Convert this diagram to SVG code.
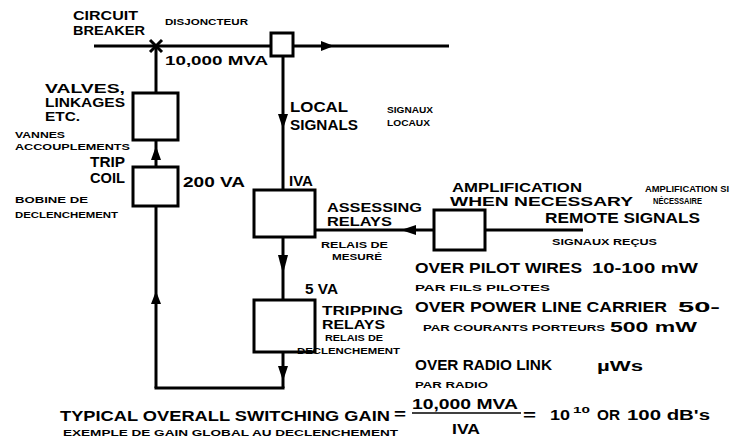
<svg xmlns="http://www.w3.org/2000/svg" width="732" height="443" viewBox="0 0 732 443">
<style>
text{font-family:"Liberation Sans",Arial,sans-serif;font-weight:bold;fill:#000}
.L{font-size:14px}
.K{font-size:12px}
.M{font-size:13px}
.S{font-size:9.5px}
.ln{stroke:#000;stroke-width:3;fill:none}
.box{stroke:#000;stroke-width:3;fill:#fff}
.ah{fill:#000}
</style>
<rect width="732" height="443" fill="#fff"/>
<g id="connectors">
<line class="ln" x1="94" y1="46" x2="449" y2="46"/>
<polygon class="ah" points="334,46 321,41 321,51"/>
<line class="ln" x1="156" y1="46" x2="156" y2="93"/>
<line class="ln" x1="156" y1="140" x2="156" y2="167"/>
<polygon class="ah" points="156,146 151,160 161,160"/>
<line class="ln" x1="156" y1="206" x2="156" y2="388"/>
<polygon class="ah" points="156,291 151,304 161,304"/>
<line class="ln" x1="154.5" y1="388" x2="284.5" y2="388"/>
<line class="ln" x1="283" y1="56" x2="283" y2="190"/>
<polygon class="ah" points="283,129 278,114 288,114"/>
<line class="ln" x1="283" y1="237" x2="283" y2="300"/>
<polygon class="ah" points="283,274 278,255 288,255"/>
<line class="ln" x1="283" y1="352" x2="283" y2="388"/>
<polygon class="ah" points="283,381 278,366 288,366"/>
<line class="ln" x1="315" y1="230" x2="434" y2="230"/>
<polygon class="ah" points="401,230 416,225 416,235"/>
<line class="ln" x1="485" y1="230" x2="583" y2="230"/>
</g>
<g id="breaker">
<line class="ln" x1="150" y1="40" x2="162" y2="52" stroke-width="2.5"/>
<line class="ln" x1="162" y1="40" x2="150" y2="52" stroke-width="2.5"/>
<text class="M" x="73" y="20" textLength="65" lengthAdjust="spacingAndGlyphs">CIRCUIT</text>
<text class="M" x="73" y="35" textLength="72" lengthAdjust="spacingAndGlyphs">BREAKER</text>
<text class="S" x="165" y="25" textLength="83" lengthAdjust="spacingAndGlyphs">DISJONCTEUR</text>
<text class="M" x="165" y="65" textLength="103" lengthAdjust="spacingAndGlyphs">10,000 MVA</text>
</g>
<g id="transformer">
<rect class="box" x="271" y="33" width="22" height="23"/>
</g>
<g id="valves">
<rect class="box" x="133" y="93" width="45" height="47"/>
<text class="K" x="45" y="93" textLength="80" lengthAdjust="spacingAndGlyphs">VALVES,</text>
<text class="K" x="45" y="107" textLength="80" lengthAdjust="spacingAndGlyphs">LINKAGES</text>
<text class="K" x="45" y="121" textLength="35" lengthAdjust="spacingAndGlyphs">ETC.</text>
<text class="S" x="15" y="138" textLength="50" lengthAdjust="spacingAndGlyphs">VANNES</text>
<text class="S" x="15" y="150" textLength="115" lengthAdjust="spacingAndGlyphs">ACCOUPLEMENTS</text>
</g>
<g id="tripcoil">
<rect class="box" x="133" y="167" width="45" height="39"/>
<text class="L" x="90" y="167" textLength="35" lengthAdjust="spacingAndGlyphs">TRIP</text>
<text class="L" x="90" y="183" textLength="35" lengthAdjust="spacingAndGlyphs">COIL</text>
<text class="L" x="183" y="187" textLength="62" lengthAdjust="spacingAndGlyphs">200 VA</text>
<text class="S" x="15" y="203" textLength="73" lengthAdjust="spacingAndGlyphs">BOBINE DE</text>
<text class="S" x="15" y="218" textLength="103" lengthAdjust="spacingAndGlyphs">DECLENCHEMENT</text>
</g>
<g id="localsignals">
<text class="L" x="290" y="112" textLength="58" lengthAdjust="spacingAndGlyphs">LOCAL</text>
<text class="L" x="290" y="130" textLength="68" lengthAdjust="spacingAndGlyphs">SIGNALS</text>
<text class="S" x="387" y="113" textLength="46" lengthAdjust="spacingAndGlyphs">SIGNAUX</text>
<text class="S" x="387" y="126" textLength="43" lengthAdjust="spacingAndGlyphs">LOCAUX</text>
</g>
<g id="assessing">
<rect class="box" x="254" y="190" width="61" height="47"/>
<text class="L" x="289" y="186" textLength="24" lengthAdjust="spacingAndGlyphs">IVA</text>
<text class="K" x="327" y="212" textLength="95" lengthAdjust="spacingAndGlyphs">ASSESSING</text>
<text class="K" x="327" y="226" textLength="65" lengthAdjust="spacingAndGlyphs">RELAYS</text>
<text class="S" x="321" y="248" textLength="67" lengthAdjust="spacingAndGlyphs">RELAIS DE</text>
<text class="S" x="332" y="260" textLength="50" lengthAdjust="spacingAndGlyphs">MESURÉ</text>
</g>
<g id="amplification">
<rect class="box" x="434" y="210" width="51" height="40"/>
<text class="K" x="452" y="192" textLength="130" lengthAdjust="spacingAndGlyphs">AMPLIFICATION</text>
<text class="K" x="450" y="206" textLength="183" lengthAdjust="spacingAndGlyphs">WHEN NECESSARY</text>
<text class="S" x="645" y="192" textLength="84" lengthAdjust="spacingAndGlyphs">AMPLIFICATION SI</text>
<text class="S" x="653" y="204" textLength="49" lengthAdjust="spacingAndGlyphs">NÉCESSAIRE</text>
</g>
<g id="remote">
<text class="L" x="545" y="223" textLength="155" lengthAdjust="spacingAndGlyphs">REMOTE SIGNALS</text>
<text class="S" x="552" y="245" textLength="105" lengthAdjust="spacingAndGlyphs">SIGNAUX REÇUS</text>
<text class="L" x="415" y="273" textLength="167" lengthAdjust="spacingAndGlyphs">OVER PILOT WIRES</text>
<text class="L" x="592" y="273" textLength="106" lengthAdjust="spacingAndGlyphs">10-100 mW</text>
<text class="S" x="415" y="291" textLength="135" lengthAdjust="spacingAndGlyphs">PAR  FILS PILOTES</text>
<text class="L" x="415" y="312" textLength="252" lengthAdjust="spacingAndGlyphs">OVER POWER LINE CARRIER</text>
<text class="L" x="678" y="312" textLength="42" lengthAdjust="spacingAndGlyphs">50-</text>
<text class="S" x="423" y="331" textLength="182" lengthAdjust="spacingAndGlyphs">PAR  COURANTS PORTEURS</text>
<text class="L" x="610" y="332" textLength="87" lengthAdjust="spacingAndGlyphs">500 mW</text>
<text class="L" x="415" y="370" textLength="137" lengthAdjust="spacingAndGlyphs">OVER RADIO LINK</text>
<text class="L" x="597" y="371" textLength="46" lengthAdjust="spacingAndGlyphs">µWs</text>
<text class="S" x="415" y="388" textLength="73" lengthAdjust="spacingAndGlyphs">PAR RADIO</text>
</g>
<g id="tripping">
<rect class="box" x="254" y="300" width="61" height="52"/>
<text class="L" x="305" y="294" textLength="33" lengthAdjust="spacingAndGlyphs">5 VA</text>
<text class="K" x="322" y="315" textLength="81" lengthAdjust="spacingAndGlyphs">TRIPPING</text>
<text class="K" x="322" y="329" textLength="63" lengthAdjust="spacingAndGlyphs">RELAYS</text>
<text class="S" x="325" y="341" textLength="58" lengthAdjust="spacingAndGlyphs">RELAIS DE</text>
<text class="S" x="297" y="354" textLength="103" lengthAdjust="spacingAndGlyphs" font-weight="normal">DECLENCHEMENT</text>
</g>
<g id="gain">
<text class="L" x="60" y="421" textLength="330" lengthAdjust="spacingAndGlyphs">TYPICAL  OVERALL  SWITCHING  GAIN</text>
<text class="L" x="394" y="419" textLength="12" lengthAdjust="spacingAndGlyphs">=</text>
<text class="L" x="412" y="409" textLength="106" lengthAdjust="spacingAndGlyphs">10,000 MVA</text>
<line x1="412" y1="413" x2="521" y2="413" stroke="#000" stroke-width="1.5"/>
<text class="L" x="452" y="434" textLength="28" lengthAdjust="spacingAndGlyphs">IVA</text>
<text class="L" x="523" y="420" textLength="13" lengthAdjust="spacingAndGlyphs">=</text>
<text class="L" x="550" y="420" textLength="20" lengthAdjust="spacingAndGlyphs">10</text>
<text class="S" x="573" y="413" textLength="17" lengthAdjust="spacingAndGlyphs">10</text>
<text class="L" x="597" y="420" textLength="23" lengthAdjust="spacingAndGlyphs">OR</text>
<text class="L" x="627" y="420" textLength="83" lengthAdjust="spacingAndGlyphs">100 dB's</text>
<text class="S" x="63" y="436" textLength="335" lengthAdjust="spacingAndGlyphs">EXEMPLE DE GAIN GLOBAL AU DECLENCHEMENT</text>
</g>
</svg>
